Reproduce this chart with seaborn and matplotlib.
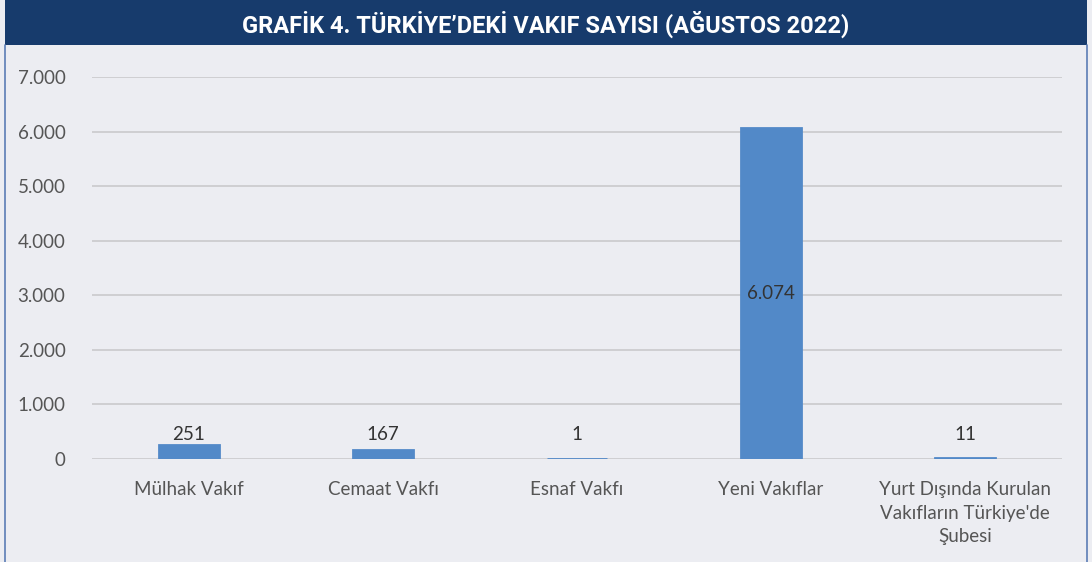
import matplotlib
matplotlib.use('Agg')
import matplotlib.pyplot as plt
import pandas as pd
import seaborn as sns
from matplotlib.patches import Rectangle
from matplotlib.lines import Line2D
from matplotlib.ticker import FuncFormatter

categories = ['Mülhak Vakıf', 'Cemaat Vakfı', 'Esnaf Vakfı', 'Yeni Vakıflar',
              "Yurt Dışında Kurulan\nVakıfların Türkiye'de\nŞubesi"]
counts = [251, 167, 1, 6074, 11]
value_labels = ['251', '167', '1', '6.074', '11']
y_ticks = [0, 1000, 2000, 3000, 4000, 5000, 6000, 7000]
title = 'GRAFİK 4. TÜRKİYE’DEKİ VAKIF SAYISI (AĞUSTOS 2022)'

BG = '#ECEDF2'
NAVY = '#173B6C'
BAR = '#5289C8'
TEXT = '#555555'

sns.set_style('white')
plt.rcParams['font.family'] = ['Lato', 'DejaVu Sans']

df = pd.DataFrame({'category': categories, 'count': counts})

fig = plt.figure(figsize=(10.92, 5.62), dpi=100, facecolor=BG)
ax = fig.add_axes([0.0842, 0.1833, 0.8883, 0.6797])
ax.set_facecolor(BG)

sns.barplot(data=df, x='category', y='count', color=BAR, width=0.31,
            edgecolor=BAR, linewidth=2.0, saturation=1, ax=ax)

ax.set_ylim(0, 7000)
ax.set_xlim(-0.5, len(categories) - 0.5)
ax.set_yticks(y_ticks)
ax.yaxis.set_major_formatter(FuncFormatter(lambda v, _: f'{v:,.0f}'.replace(',', '.')))
ax.grid(axis='y', color='#CFCFD2', linewidth=1.4)
ax.set_axisbelow(True)
for side in ['top', 'right', 'left', 'bottom']:
    ax.spines[side].set_visible(False)
ax.tick_params(axis='y', length=0, pad=19, labelsize=13.5, labelcolor=TEXT)
ax.tick_params(axis='x', length=0, pad=16, labelsize=13.5, labelcolor=TEXT)
ax.set_xlabel('')
ax.set_ylabel('')
for lbl in ax.get_xticklabels():
    lbl.set_linespacing(1.45)
    lbl.set_va('top')

# short bars keep their labels at the same height as the 251 label
for i, (v, txt) in enumerate(zip(counts, value_labels)):
    if v > 3000:
        ax.text(i, v / 2, txt, ha='center', va='center', fontsize=13.5, color='#333333')
    else:
        ax.annotate(txt, (i, max(v, 251)), xytext=(0, 1.5), textcoords='offset points',
                    ha='center', va='bottom', fontsize=13.5, color='#333333')

# title bar and frame
fig.patches.append(Rectangle((0.0046, 0.92), 0.9908, 0.08, transform=fig.transFigure,
                             facecolor=NAVY, edgecolor='none', zorder=0))
fig.text(0.5, 0.957, title, ha='center', va='center', color='white', fontsize=17,
         fontweight='bold', family=['Roboto', 'DejaVu Sans'])
for x in (0.0046, 0.9954):
    fig.lines.append(Line2D([x, x], [0, 0.92], transform=fig.transFigure,
                            color='#5B7DB5', linewidth=1.2))

fig.savefig('out.png', dpi=100, facecolor=BG)
